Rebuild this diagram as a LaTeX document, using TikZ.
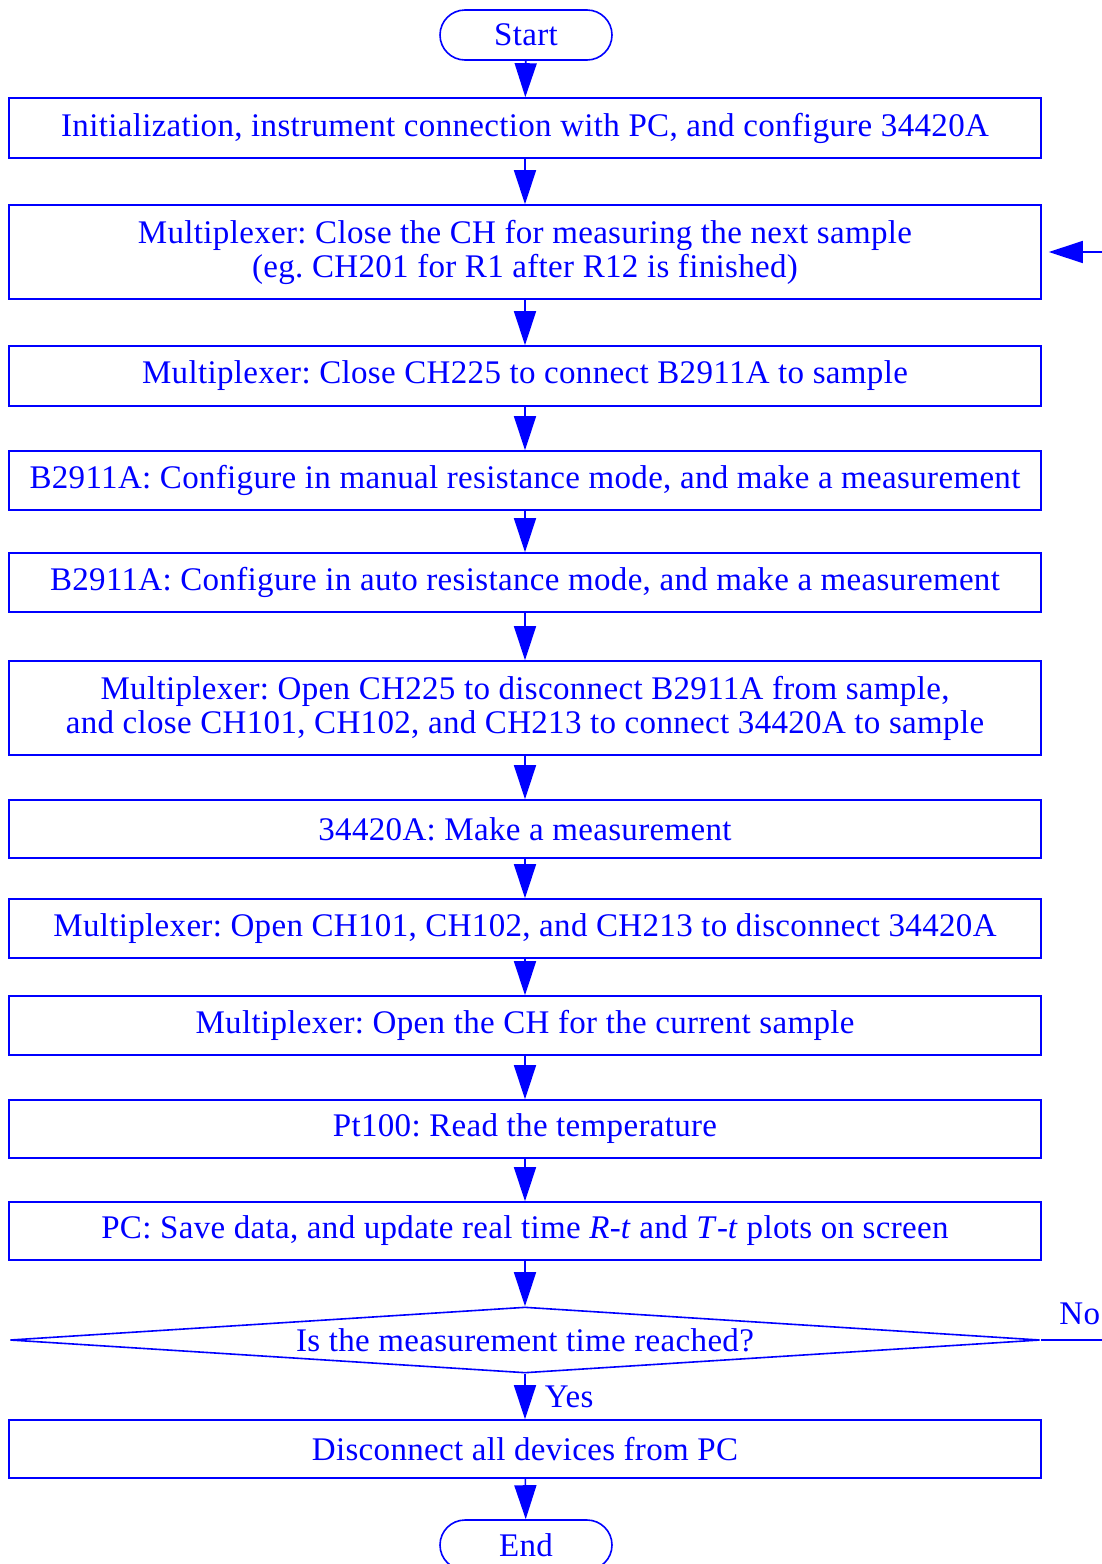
\documentclass[tikz,border=0pt]{standalone}
\usepackage{fontspec}
\setmainfont[LetterSpace=1.0]{Liberation Serif}
\usetikzlibrary{shapes.geometric,shapes.misc,arrows.meta}
\definecolor{fcblue}{RGB}{0,0,255}
\frenchspacing
\tikzset{
  stepbox/.style={draw=fcblue, line width=1.6pt, text=fcblue, rectangle,
    minimum width=1032pt, inner sep=0pt, align=center,
    font=\fontsize{33pt}{34pt}\selectfont},
  termbox/.style={draw=fcblue, line width=1.6pt, text=fcblue, rounded rectangle,
    minimum width=172pt, minimum height=50pt, inner sep=0pt,
    font=\fontsize{33pt}{34pt}\selectfont},
  decbox/.style={draw=fcblue, line width=1.6pt, text=fcblue, diamond, aspect=15.6,
    minimum width=1030pt, minimum height=66pt, inner sep=0pt,
    font=\fontsize{33pt}{34pt}\selectfont},
  flow/.style={draw=fcblue, line width=1.6pt, -{Triangle[length=34pt,width=22pt]}},
  lbl/.style={text=fcblue, font=\fontsize{33pt}{34pt}\selectfont, inner sep=0pt}
}
\begin{document}
\begin{tikzpicture}[x=1pt,y=-1pt]
\clip (0,0) rectangle (1102,1564);
\useasboundingbox (0,0) rectangle (1102,1564);
\node[termbox] (start) at (526,35) {Start};
\node[stepbox, minimum height=60pt] (b1) at (525,128) {Initialization, instrument connection with PC, and configure 34420A};
\node[stepbox, minimum height=94pt] (b2) at (525,252) {Multiplexer: Close the CH for measuring the next sample\\(eg. CH201 for R1 after R12 is finished)};
\node[stepbox, minimum height=60pt] (b3) at (525,376) {Multiplexer: Close CH225 to connect B2911A to sample};
\node[stepbox, minimum height=59pt] (b4) at (525,480.5) {B2911A: Configure in manual resistance mode, and make a measurement};
\node[stepbox, minimum height=59pt] (b5) at (525,582.5) {B2911A: Configure in auto resistance mode, and make a measurement};
\node[stepbox, minimum height=94pt] (b6) at (525,708) {Multiplexer: Open CH225 to disconnect B2911A from sample,\\and close CH101, CH102, and CH213 to connect 34420A to sample};
\node[stepbox, minimum height=58pt] (b7) at (525,829) {34420A: Make a measurement};
\node[stepbox, minimum height=59pt] (b8) at (525,928.5) {Multiplexer: Open CH101, CH102, and CH213 to disconnect 34420A};
\node[stepbox, minimum height=59pt] (b9) at (525,1025.5) {Multiplexer: Open the CH for the current sample};
\node[stepbox, minimum height=58pt] (b10) at (525,1129) {Pt100: Read the temperature};
\node[stepbox, minimum height=58pt] (b11) at (525,1231) {PC: Save data, and update real time \textit{R}-\textit{t} and \textit{T}-\textit{t} plots on screen};
\node[decbox] (d) at (525,1340) {Is the measurement time reached?};
\node[stepbox, minimum height=58pt] (b12) at (525,1449) {Disconnect all devices from PC};
\node[termbox] (end) at (526,1545) {End};
\coordinate (loopbot) at (1108,1340);
\coordinate (looptop) at (1108,252);

\draw[flow] (start) -- (b1);
\draw[flow] (b1) -- (b2);
\draw[flow] (b2) -- (b3);
\draw[flow] (b3) -- (b4);
\draw[flow] (b4) -- (b5);
\draw[flow] (b5) -- (b6);
\draw[flow] (b6) -- (b7);
\draw[flow] (b7) -- (b8);
\draw[flow] (b8) -- (b9);
\draw[flow] (b9) -- (b10);
\draw[flow] (b10) -- (b11);
\draw[flow] (b11) -- (d);
\draw[flow] (d) -- node[lbl, right=19pt, pos=0.5] (yes) {Yes} (b12);
\draw[flow] (b12) -- (end);
\draw[flow, shorten >=7pt] (d.east) -- node[lbl, above=14pt, pos=0.58] (no) {No} (loopbot) -- (looptop) -- (b2.east);
\end{tikzpicture}
\end{document}
